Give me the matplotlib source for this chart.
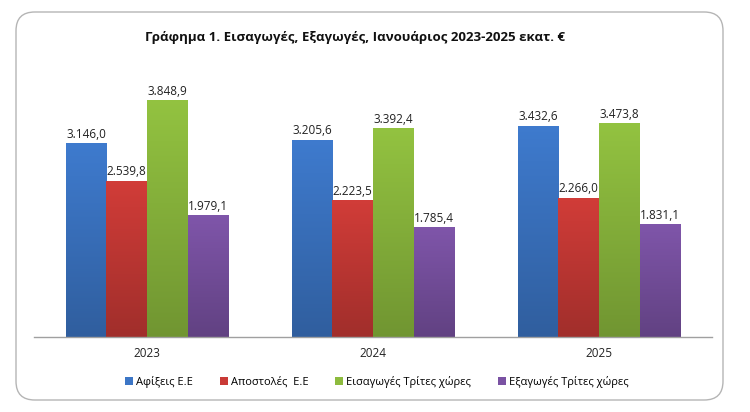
import matplotlib
matplotlib.use("Agg")
import matplotlib.pyplot as plt
import numpy as np
from matplotlib.patches import FancyBboxPatch
from matplotlib.colors import to_rgb

years = ["2023", "2024", "2025"]
series_names = ["Αφίξεις Ε.Ε", "Αποστολές  Ε.Ε", "Εισαγωγές Τρίτες χώρες", "Εξαγωγές Τρίτες χώρες"]
arrivals = [3146.0, 3205.6, 3432.6]
dispatches = [2539.8, 2223.5, 2266.0]
imports_tc = [3848.9, 3392.4, 3473.8]
exports_tc = [1979.1, 1785.4, 1831.1]
colors = ["#3C76C6", "#C93A36", "#8DBB3E", "#7A52A3"]

plt.rcParams['font.family'] = ['Open Sans', 'DejaVu Sans']

fig = plt.figure(figsize=(7.5, 4.12), dpi=100)
W, H = 750, 412

border = FancyBboxPatch((16 / W, 12 / H), (723 - 16) / W, (400 - 12) / H,
                        boxstyle="round,pad=0,rounding_size=0.025",
                        transform=fig.transFigure, facecolor="white",
                        edgecolor="#B5B5B5", linewidth=1.0, mutation_aspect=W / H,
                        zorder=-10)
fig.patches.append(border)

ax = fig.add_axes([34 / W, 75 / H, (712 - 34) / W, 277 / H])
ax.set_facecolor("none")
ax.set_zorder(5)

def fmt(v):
    s = f"{v:,.1f}"
    return s.replace(",", "X").replace(".", ",").replace("X", ".")

def shade(c, f):
    r, g, b = to_rgb(c)
    return (r * f, g * f, b * f)

data = [arrivals, dispatches, imports_tc, exports_tc]
x = np.arange(len(years))
bw = 0.18
for i, (vals, c, name) in enumerate(zip(data, colors, series_names)):
    pos = x + (i - 1.5) * bw
    bars = ax.bar(pos, vals, width=bw, color=c, label=name, zorder=2)
    top = np.array(shade(c, 1.04)).clip(0, 1)
    bot = np.array(shade(c, 0.80))
    for b, v in zip(bars, vals):
        t = np.linspace(0, 1, 64)[:, None]
        grad = top[None, :] * (1 - t) + bot[None, :] * t
        img = grad[:, None, :].repeat(2, axis=1)
        x0 = b.get_x()
        im = ax.imshow(img, extent=(x0, x0 + b.get_width(), 0, v), origin="upper",
                       aspect="auto", zorder=2.5, interpolation="bilinear")
        im.set_clip_path(b)
        ax.text(x0 + b.get_width() / 2, v + 40, fmt(v), ha="center", va="bottom",
                fontsize=8.5, color="#222222", zorder=4)

ax.set_xlim(-0.5, 2.5)
ax.set_ylim(0, 4500)
ax.set_yticks([])
ax.set_xticks(x)
ax.set_xticklabels(years, fontsize=8.5, color="#222222")
ax.tick_params(axis="x", length=0, pad=7)
for s in ["top", "right", "left"]:
    ax.spines[s].set_visible(False)
ax.spines["bottom"].set_color("#A0A0A0")
ax.spines["bottom"].set_linewidth(1.0)
ax.spines["bottom"].set_zorder(3)

fig.text(355 / W, 1 - 37 / H, "Γράφημα 1. Εισαγωγές, Εξαγωγές, Ιανουάριος 2023-2025 εκατ. €",
         ha="center", va="center", fontsize=9.5, fontweight="bold", color="#111111", zorder=6)

leg = fig.legend(loc="center", bbox_to_anchor=(377 / W, 1 - 382 / H), ncol=4, frameon=False,
                 fontsize=8, handlelength=0.7, handleheight=0.7, handletextpad=0.3,
                 columnspacing=2.4)
leg.set_zorder(6)

fig.savefig("out.png", dpi=100)
